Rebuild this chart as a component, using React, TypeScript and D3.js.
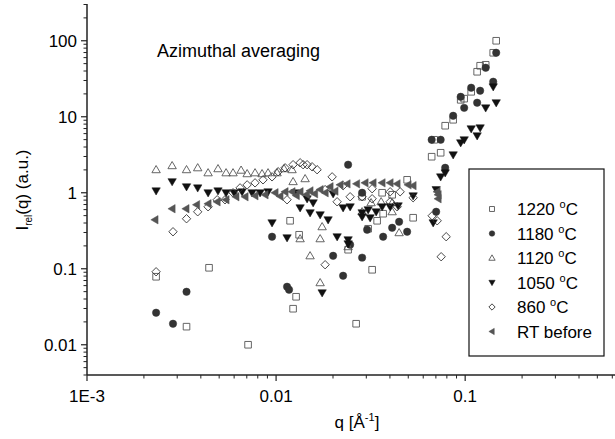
import React from "react";
import * as d3 from "d3";

type P = [number, number];

const seriesNames = ["1220 °C", "1180 °C", "1120 °C", "1050 °C", "860 °C", "RT before"];

const s1220: P[] = [
  [0.00232, 0.0785], [0.00336, 0.0173], [0.00442, 0.103], [0.00711, 0.010],
  [0.01186, 0.428], [0.01324, 0.28], [0.0123, 0.0298], [0.01276, 0.0428],
  [0.02404, 0.178], [0.02651, 0.0189], [0.02851, 0.886], [0.03068, 0.336],
  [0.03221, 0.097], [0.03423, 0.428], [0.03638, 1.0], [0.03683, 0.53],
  [0.0411, 0.941], [0.04933, 1.48], [0.05307, 0.469], [0.0665, 2.98],
  [0.0742, 3.36], [0.0686, 4.98], [0.0784, 7.62], [0.0864, 9.13],
  [0.0947, 16.7], [0.0988, 17.3], [0.1076, 21.3], [0.1157, 39.1],
  [0.12, 46.9], [0.1284, 48.3], [0.1407, 69.5], [0.1459, 100],
];

const s1180: P[] = [
  [0.00232, 0.0264], [0.00285, 0.0189], [0.00336, 0.0498], [0.00952, 0.264],
  [0.01143, 0.058], [0.01171, 0.053], [0.02003, 0.148], [0.02262, 0.0809],
  [0.02404, 2.34], [0.02464, 0.207], [0.02851, 1.0], [0.02851, 0.14],
  [0.0303, 0.326], [0.03683, 0.264], [0.0411, 0.346], [0.04474, 0.415],
  [0.04933, 0.307], [0.0665, 4.98], [0.07025, 0.562], [0.0742, 4.98],
  [0.0784, 2.13], [0.0864, 10.3], [0.0947, 18.3], [0.0988, 13.1],
  [0.1076, 24.1], [0.1157, 15.3], [0.12, 22.0], [0.1284, 44.1],
  [0.1407, 28.9], [0.1459, 69.5],
];

const s1120: P[] = [
  [0.00232, 2.01], [0.00282, 2.27], [0.00336, 2.01], [0.00385, 2.13],
  [0.00437, 1.83], [0.00493, 2.07], [0.00544, 1.83], [0.00592, 1.83],
  [0.00653, 1.98], [0.00703, 1.78], [0.00774, 1.83], [0.00843, 1.78],
  [0.00907, 1.83], [0.01012, 1.83], [0.01102, 2.07], [0.01215, 2.01],
  [0.0123, 1.4], [0.01424, 1.53], [0.0134, 0.248], [0.01513, 0.148],
  [0.0171, 0.248], [0.0171, 0.0655], [0.01752, 0.357], [0.02404, 0.195],
  [0.02851, 0.562], [0.0318, 0.739], [0.03594, 0.761], [0.0411, 0.562],
  [0.0411, 0.739], [0.04474, 0.298],
];

const s1050: P[] = [
  [0.00232, 1.06], [0.00282, 1.4], [0.00336, 1.2], [0.00385, 1.16],
  [0.00437, 1.0], [0.00493, 1.06], [0.00544, 1.0], [0.006, 1.0],
  [0.00661, 1.03], [0.00746, 1.0], [0.00823, 1.0], [0.00907, 1.03],
  [0.00952, 0.403], [0.01143, 0.256], [0.0126, 1.0], [0.0134, 0.635],
  [0.01459, 0.834], [0.01513, 0.546], [0.0157, 0.739], [0.0171, 0.514],
  [0.01752, 0.0483], [0.01884, 0.441], [0.02003, 0.97], [0.02103, 0.264],
  [0.02262, 0.635], [0.02404, 0.241], [0.02404, 0.213], [0.02464, 0.654],
  [0.02851, 0.483], [0.02851, 0.546], [0.03068, 0.598], [0.03143, 0.469],
  [0.03382, 0.562], [0.03638, 0.654], [0.04011, 0.654], [0.0442, 0.674],
  [0.05307, 0.913], [0.06773, 0.403], [0.07025, 1.1], [0.0742, 1.62],
  [0.0784, 1.83], [0.0864, 3.16], [0.0947, 4.55], [0.0988, 4.98],
  [0.1076, 6.95], [0.1157, 5.62], [0.12, 7.16], [0.1284, 13.1],
  [0.1407, 24.8], [0.1459, 15.3],
];

const s860: P[] = [
  [0.00232, 0.0913], [0.00285, 0.307], [0.00336, 0.455], [0.00385, 0.562],
  [0.00437, 0.654], [0.00488, 0.809], [0.00537, 0.809], [0.00592, 1.0],
  [0.00645, 1.16], [0.00703, 1.27], [0.00774, 1.35], [0.00853, 1.48],
  [0.00952, 1.62], [0.01025, 1.89], [0.01116, 2.13], [0.0123, 2.34],
  [0.0134, 2.48], [0.0139, 2.34], [0.01459, 2.34], [0.0155, 2.2],
  [0.01648, 2.01], [0.01143, 0.809], [0.01817, 1.1], [0.01979, 1.62],
  [0.02103, 0.761], [0.02262, 1.24], [0.02464, 0.886], [0.02851, 0.886],
  [0.03221, 1.13], [0.03221, 0.834], [0.04011, 1.03], [0.0401, 0.761],
  [0.04368, 0.654], [0.0453, 1.03], [0.05307, 0.86], [0.01817, 0.113],
  [0.0669, 0.498], [0.07112, 0.428], [0.07935, 0.264], [0.07464, 0.144],
];

const sRT: P[] = [
  [0.00229, 0.441], [0.00282, 0.616], [0.00334, 0.616], [0.0038, 0.695],
  [0.00437, 0.717], [0.00488, 0.761], [0.00544, 0.809], [0.00614, 0.886],
  [0.00686, 0.886], [0.00774, 0.913], [0.00875, 0.941], [0.00988, 1.0],
  [0.01116, 1.03], [0.01215, 1.03], [0.0134, 1.03], [0.01513, 1.06],
  [0.0171, 1.1], [0.01931, 1.2], [0.02181, 1.27], [0.02375, 1.31],
  [0.02667, 1.31], [0.02957, 1.35], [0.0326, 1.35], [0.03638, 1.35],
  [0.04011, 1.35], [0.04368, 1.31], [0.04994, 1.27], [0.05307, 1.24],
  [0.07112, 1.03], [0.07198, 0.834], [0.07198, 0.941],
  [0.0105, 0.9], [0.0128, 0.92], [0.0145, 0.95], [0.016, 0.97],
  [0.0182, 1.0], [0.0205, 1.05],
];

const seriesData = [s1220, s1180, s1120, s1050, s860, sRT];

const xMajor = [0.001, 0.01, 0.1];
const xMajorLabels = ["1E-3", "0.01", "0.1"];
const yMajor = [0.01, 0.1, 1, 10, 100];
const yMajorLabels = ["0.01", "0.1", "1", "10", "100"];

const W = 615;
const H = 439;
const FONT = "'Liberation Sans', Arial, Helvetica, sans-serif";

type Shape = "square" | "circle" | "up" | "down" | "diamond" | "left";
const shapes: Shape[] = ["square", "circle", "up", "down", "diamond", "left"];
const strokeCols = ["#555", "#333", "#555", "#111", "#333", "#555"];
const filled = [false, true, false, true, false, true];

function markerPath(shape: Shape, k: number): string {
  const p = d3.path();
  if (shape === "square") {
    const h = 3.3 * k;
    p.rect(-h, -h, 2 * h, 2 * h);
  } else if (shape === "circle") {
    p.arc(0, 0, 3.7 * k, 0, Math.PI * 2);
    p.closePath();
  } else if (shape === "up") {
    p.moveTo(0, -4.2 * k); p.lineTo(4.2 * k, 3 * k); p.lineTo(-4.2 * k, 3 * k); p.closePath();
  } else if (shape === "down") {
    p.moveTo(-4.2 * k, -3 * k); p.lineTo(4.2 * k, -3 * k); p.lineTo(0, 4.2 * k); p.closePath();
  } else if (shape === "left") {
    p.moveTo(-4.2 * k, 0); p.lineTo(3 * k, -4.2 * k); p.lineTo(3 * k, 4.2 * k); p.closePath();
  } else {
    p.moveTo(0, -4.2 * k); p.lineTo(4.2 * k, 0); p.lineTo(0, 4.2 * k); p.lineTo(-4.2 * k, 0); p.closePath();
  }
  return p.toString();
}

function Marker({ i, x, y, k }: { i: number; x: number; y: number; k: number }) {
  return (
    <path
      d={markerPath(shapes[i], k)}
      transform={`translate(${x},${y})`}
      fill={filled[i] ? strokeCols[i] : "none"}
      stroke={strokeCols[i]}
      strokeWidth={filled[i] ? 0.5 : 0.9}
    />
  );
}

export default function App() {
  const x = d3.scaleLog().domain([0.001, 0.62]).range([87, 615]);
  const y = d3.scaleLog().domain([0.004, 300]).range([375, 4.5]);

  const xMinor: number[] = [];
  for (const dec of [0.001, 0.01, 0.1]) {
    for (let k = 2; k <= 9; k++) {
      const v = dec * k;
      if (v <= 0.62) xMinor.push(v);
    }
  }
  const yMinor: number[] = [];
  for (const dec of [0.001, 0.01, 0.1, 1, 10, 100]) {
    for (let k = 2; k <= 9; k++) {
      const v = dec * k;
      if (v >= 0.004 && v <= 300) yMinor.push(v);
    }
  }

  const axisY = 375;
  const axisX = 87;

  const legendX = 469;
  const legendY = 169;
  const legendRowY = (i: number) => 209 + i * 24.5;

  return (
    <svg
      width={W}
      height={H}
      style={{ position: "absolute", left: 0, top: 0, background: "#fff" }}
      fontFamily={FONT}
    >
      <rect x={0} y={0} width={W} height={H} fill="#fff" />

      {seriesData.map((pts, si) => (
        <g key={si}>
          {pts.map((d, j) => (
            <Marker key={j} i={si} x={x(d[0])} y={y(d[1])} k={1} />
          ))}
        </g>
      ))}

      <line x1={axisX} x2={W} y1={axisY} y2={axisY} stroke="#222" strokeWidth={1.5} />
      <line x1={axisX} x2={axisX} y1={4} y2={axisY} stroke="#222" strokeWidth={1.5} />

      {xMinor.map((v, i) => (
        <line key={`xm${i}`} x1={x(v)} x2={x(v)} y1={axisY} y2={axisY + 3.5} stroke="#222" strokeWidth={1} />
      ))}
      {xMajor.map((v, i) => (
        <g key={`xM${i}`}>
          <line x1={x(v)} x2={x(v)} y1={axisY} y2={axisY + 6} stroke="#222" strokeWidth={1.2} />
          <text x={x(v)} y={402} textAnchor="middle" fontSize={17} fill="#000">
            {xMajorLabels[i]}
          </text>
        </g>
      ))}

      {yMinor.map((v, i) => (
        <line key={`ym${i}`} x1={axisX - 3.5} x2={axisX} y1={y(v)} y2={y(v)} stroke="#222" strokeWidth={1} />
      ))}
      {yMajor.map((v, i) => (
        <g key={`yM${i}`}>
          <line x1={axisX - 6} x2={axisX} y1={y(v)} y2={y(v)} stroke="#222" strokeWidth={1.2} />
          <text x={77} y={y(v) + 6} textAnchor="end" fontSize={17} fill="#000">
            {yMajorLabels[i]}
          </text>
        </g>
      ))}

      <text x={357} y={428} textAnchor="middle" fontSize={17} fill="#000">
        q [Å<tspan dy={-7} fontSize={11}>-1</tspan>
        <tspan dy={7}>]</tspan>
      </text>
      <text transform="translate(28,190) rotate(-90)" textAnchor="middle" fontSize={17} fill="#000">
        I<tspan dy={4} fontSize={10}>rel</tspan>
        <tspan dy={-4}>(q) (a.u.)</tspan>
      </text>

      <text x={157} y={57} fontSize={18} fill="#000">
        Azimuthal averaging
      </text>

      <rect x={legendX} y={legendY} width={135} height={187} fill="#fff" stroke="#111" strokeWidth={1.2} />
      {seriesNames.map((name, i) => {
        const ry = legendRowY(i);
        const isTemp = name.endsWith("°C");
        return (
          <g key={`lg${i}`}>
            <Marker i={i} x={492} y={ry} k={0.75} />
            <text x={517} y={ry + 6} fontSize={17} fill="#000">
              {isTemp ? (
                <>
                  {name.replace(" °C", " ")}
                  <tspan dy={-7} fontSize={11}>o</tspan>
                  <tspan dy={7}>C</tspan>
                </>
              ) : (
                name
              )}
            </text>
          </g>
        );
      })}
    </svg>
  );
}
